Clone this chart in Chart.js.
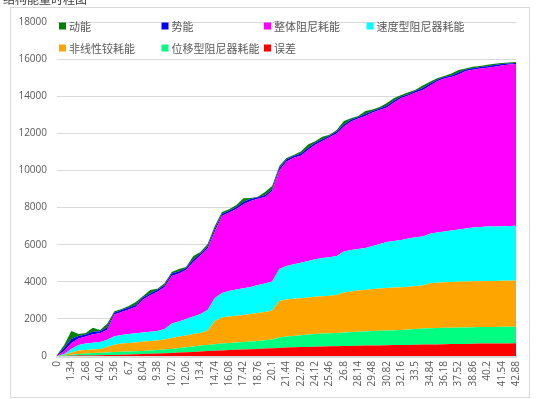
<!DOCTYPE html>
<html lang="zh">
<head>
<meta charset="utf-8">
<title>能量时程</title>
<script src="https://cdn.jsdelivr.net/npm/chart.js@4.4.1/dist/chart.umd.min.js"></script>
<style>
    html, body { margin: 0; padding: 0; background: #fff; }
    #wrap { position: relative; width: 541px; height: 399px; overflow: hidden; background: #fff; }
    #title { position: absolute; z-index: 2; left: 3px; top: -10px; font: 12px "Noto Sans CJK SC", sans-serif; color: #404040; white-space: nowrap; }
    canvas { position: absolute; z-index: 1; left: 0; top: 0; }
</style>
</head>
<body>
<div id="wrap">
    <canvas id="energyChart" width="541" height="399"></canvas>
    <div id="title">结构能量时程图</div>
</div>
<script>
// time (s), one point every 0.67 s; every second one is labelled
const timeLabels = ['0','0.67','1.34','2.01','2.68','3.35','4.02','4.69','5.36','6.03','6.7','7.37','8.04','8.71','9.38','10.05',
    '10.72','11.39','12.06','12.73','13.4','14.07','14.74','15.41','16.08','16.75','17.42','18.09','18.76','19.43','20.1','20.77',
    '21.44','22.11','22.78','23.45','24.12','24.79','25.46','26.13','26.8','27.47','28.14','28.81','29.48','30.15','30.82','31.49',
    '32.16','32.83','33.5','34.17','34.84','35.51','36.18','36.85','37.52','38.19','38.86','39.53','40.2','40.87','41.54','42.21','42.88'];

// energy components, bottom of the stack first
const errorEnergy = [0,5,11,22,27,32,43,48,54,70,81,97,108,124,135,151,162,183,205,221,243,264,286,302,323,340,350,366,377,399,
    420,437,458,469,480,490,501,512,523,528,539,544,555,561,566,571,582,587,593,598,609,614,620,625,636,641,647,652,663,668,674,674,679,679,684];
const dispDamperEnergy = [0,27,54,81,108,124,129,146,155,158,160,162,165,172,189,199,216,243,264,296,323,334,345,366,377,388,404,415,431,453,
    469,560,593,614,636,663,684,695,701,717,728,744,749,765,781,787,792,798,808,830,846,868,880,882,884,885,886,887,888,889,890,891,892,893,895];
const hingeEnergy = [0,22,124,190,194,197,200,291,404,447,458,474,505,512,518,539,593,625,636,668,678,776,1256,1407,1428,1436,1455,1482,1509,1520,
    1563,1967,1994,1998,2001,2004,2007,2012,2020,2042,2156,2188,2226,2231,2263,2280,2290,2300,2307,2310,2314,2318,2425,2447,2455,2460,2463,2470,2474,2477,2479,2480,2482,2484,2486];
const velDamperEnergy = [0,54,189,296,345,360,380,390,458,460,485,488,490,495,512,566,781,808,889,943,1024,1105,1239,1320,1374,1420,1440,1455,1509,1536,
    1563,1724,1805,1859,1913,1967,2021,2060,2075,2102,2209,2230,2240,2263,2317,2398,2479,2506,2544,2590,2624,2641,2668,2695,2732,2775,2818,2856,2899,2915,2930,2938,2942,2946,2948];
const dampingEnergy = [0,162,323,350,377,458,469,539,1159,1239,1320,1428,1778,1967,2102,2263,2560,2587,2641,2937,3153,3314,3584,4150,4230,4338,4527,4635,4651,4662,
    4877,5308,5632,5739,5766,5982,6170,6305,6467,6602,6736,6925,7033,7113,7194,7221,7248,7464,7652,7706,7814,7895,7976,8164,8245,8272,8353,8488,8500,8542,8560,8612,8660,8703,8730];
const potentialEnergy = [27,162,216,135,104,131,112,138,101,106,112,97,109,104,113,99,128,106,111,134,102,109,131,105,98,112,137,104,81,110,
    101,129,107,96,112,104,109,99,84,110,103,107,79,112,83,80,104,109,82,78,85,103,107,80,84,78,105,82,79,83,80,84,78,56,52];
const kineticEnergy = [27,162,431,108,81,216,70,189,81,54,81,162,76,189,54,108,88,135,54,189,81,135,162,108,76,108,189,54,27,162,
    162,108,81,54,108,189,81,135,54,81,189,76,54,162,81,81,135,135,81,108,54,135,108,81,54,108,135,54,81,54,81,76,54,54,54];

const yTicks = { min: 0, max: 18000, step: 2000 };

const series = [
    { label: '误差', data: errorEnergy, color: '#ff0000' },
    { label: '位移型阻尼器耗能', data: dispDamperEnergy, color: '#00ff80' },
    { label: '非线性铰耗能', data: hingeEnergy, color: '#ffa500' },
    { label: '速度型阻尼器耗能', data: velDamperEnergy, color: '#00ffff' },
    { label: '整体阻尼耗能', data: dampingEnergy, color: '#ff00ff' },
    { label: '势能', data: potentialEnergy, color: '#0000ff' },
    { label: '动能', data: kineticEnergy, color: '#008000' }
];
const legendOrder = ['动能', '势能', '整体阻尼耗能', '速度型阻尼器耗能', '非线性铰耗能', '位移型阻尼器耗能', '误差'];

const AXIS_COLOR = '#595959';
const GRID_COLOR = '#d9d9d9';

// thin grey frame round the chart
const framePlugin = {
    id: 'frame',
    beforeDraw(chart) {
        const ctx = chart.ctx;
        ctx.save();
        ctx.strokeStyle = GRID_COLOR;
        ctx.lineWidth = 1;
        ctx.strokeRect(10.5, 7.5, 519, 390);
        ctx.restore();
    }
};

// legend laid out in fixed columns inside the plot, like the original
const gridLegendPlugin = {
    id: 'gridLegend',
    afterDraw(chart) {
        const ctx = chart.ctx;
        const left = chart.chartArea.left + 2;
        ctx.save();
        ctx.font = '11px "Noto Sans CJK SC", sans-serif';
        ctx.textBaseline = 'middle';
        legendOrder.forEach((name, k) => {
            const ds = chart.data.datasets.find(d => d.label === name);
            const x = left + (k % 4) * 102.5;
            const y = 26 + Math.floor(k / 4) * 22;
            ctx.fillStyle = ds.backgroundColor;
            ctx.fillRect(x, y - 3.5, 7, 7);
            ctx.fillStyle = AXIS_COLOR;
            ctx.fillText(name, x + 10, y + 0.5);
        });
        ctx.restore();
    }
};

const ctx = document.getElementById('energyChart').getContext('2d');

new Chart(ctx, {
    type: 'line',
    data: {
        labels: timeLabels,
        datasets: series.map((s, i) => ({
            label: s.label,
            data: s.data,
            backgroundColor: s.color,
            borderColor: s.color,
            borderWidth: 0,
            pointRadius: 0,
            tension: 0,
            fill: i === 0 ? 'origin' : '-1'
        }))
    },
    options: {
        responsive: false,
        animation: false,
        devicePixelRatio: 1,
        layout: { padding: { left: 10, right: 25, top: 22, bottom: 0 } },
        plugins: {
            legend: { display: false },
            tooltip: { enabled: false }
        },
        scales: {
            x: {
                type: 'category',
                grid: { display: false, drawTicks: false },
                border: { display: true, color: GRID_COLOR, width: 3 },
                ticks: {
                    autoSkip: false,
                    minRotation: 90,
                    maxRotation: 90,
                    padding: 5,
                    color: AXIS_COLOR,
                    font: { family: '"Open Sans", sans-serif', size: 10 },
                    callback: function (value, index) {
                        return index % 2 === 0 ? this.getLabelForValue(value) : '';
                    }
                },
                afterFit: (scale) => { scale.height = 43; }
            },
            y: {
                stacked: true,
                min: yTicks.min,
                max: yTicks.max,
                grid: { color: GRID_COLOR, lineWidth: 1, drawTicks: false },
                border: { display: false },
                ticks: {
                    stepSize: yTicks.step,
                    padding: 10,
                    color: AXIS_COLOR,
                    font: { family: '"Open Sans", sans-serif', size: 10 },
                    callback: (value) => String(value)
                },
                afterFit: (scale) => { scale.width = 47; }
            }
        }
    },
    plugins: [framePlugin, gridLegendPlugin]
});
</script>
</body>
</html>
